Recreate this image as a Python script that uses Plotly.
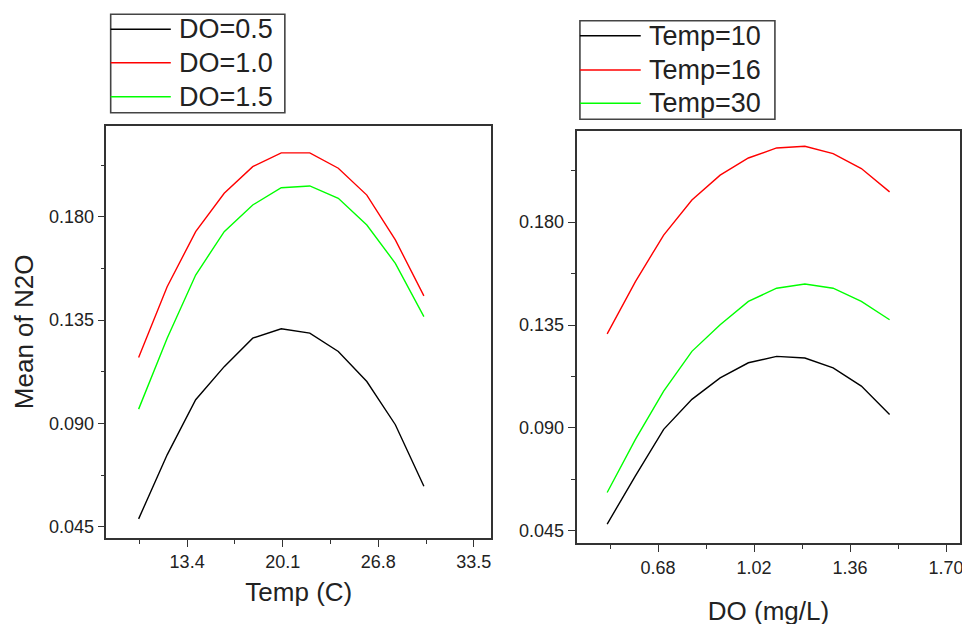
import plotly.graph_objects as go

# ---- data ----
temp = [10, 12, 14, 16, 18, 20, 22, 24, 26, 28, 30]
do_05 = [0.0484, 0.0763, 0.1003, 0.1147, 0.1271, 0.1312, 0.1293, 0.1213, 0.1082, 0.0894, 0.0626]
do_10 = [0.1187, 0.1495, 0.1735, 0.1902, 0.2018, 0.2078, 0.2078, 0.2011, 0.1894, 0.1699, 0.1455]
do_15 = [0.0962, 0.1271, 0.1546, 0.1735, 0.1851, 0.1926, 0.1934, 0.1880, 0.1764, 0.1597, 0.1365]

do_vals = [0.5, 0.6, 0.7, 0.8, 0.9, 1.0, 1.1, 1.2, 1.3, 1.4, 1.5]
t_10 = [0.0480, 0.0691, 0.0894, 0.1025, 0.1119, 0.1185, 0.1213, 0.1206, 0.1163, 0.1083, 0.0959]
t_16 = [0.1311, 0.1540, 0.1743, 0.1896, 0.2005, 0.2080, 0.2124, 0.2131, 0.2099, 0.2034, 0.1932]
t_30 = [0.0618, 0.0850, 0.1061, 0.1235, 0.1351, 0.1453, 0.1511, 0.1529, 0.1511, 0.1453, 0.1373]

left_names = ["DO=0.5", "DO=1.0", "DO=1.5"]
right_names = ["Temp=10", "Temp=16", "Temp=30"]
colors = ["#000000", "#FF0000", "#00FF00"]

FONT = "Liberation Sans, Arial, sans-serif"
TXT = "#222222"
AX = "#333333"

fig = go.Figure()
for ys, name, c in zip([do_05, do_10, do_15], left_names, colors):
    fig.add_trace(go.Scatter(x=temp, y=ys, mode="lines", name=name,
                             line=dict(color=c, width=1.4), xaxis="x", yaxis="y",
                             showlegend=False))
for ys, name, c in zip([t_10, t_16, t_30], right_names, colors):
    fig.add_trace(go.Scatter(x=do_vals, y=ys, mode="lines", name=name,
                             line=dict(color=c, width=1.4), xaxis="x2", yaxis="y2",
                             showlegend=False))

# the page body offsets the figure by ~8px; compensate in layout positions
OFF = 8
W, H = 970, 624

def px(x):
    return min(max((x - OFF) / W, 0.0), 1.0)

def py(y):
    return min(max(1 - (y - OFF) / H, 0.0), 1.0)

common = dict(showline=True, linecolor=AX, linewidth=1.6, mirror=True,
              ticks="outside", ticklen=7, tickwidth=1.4, tickcolor=AX,
              showgrid=False, zeroline=False,
              tickfont=dict(family=FONT, size=18, color=TXT))

fig.update_layout(
    width=W, height=H,
    margin=dict(l=0, r=0, t=0, b=0),
    paper_bgcolor="white", plot_bgcolor="white",
    xaxis=dict(domain=[px(106.7), px(492.7)], range=[7.74, 34.72],
               tickmode="linear", tick0=13.4, dtick=6.7, tickformat=".1f",
               minor=dict(ticks="outside", ticklen=4, tickcolor=AX, tickwidth=1.2, dtick=3.35, tick0=13.4),
               anchor="y",
               title=dict(text="Temp (C)", font=dict(family=FONT, size=26, color=TXT), standoff=12),
               **common),
    yaxis=dict(domain=[py(537.7), py(126)], range=[0.0402, 0.2195],
               tickmode="linear", tick0=0.045, dtick=0.045, tickformat=".3f",
               minor=dict(ticks="outside", ticklen=4, tickcolor=AX, tickwidth=1.2, dtick=0.0225, tick0=0.045),
               anchor="x",
               title=dict(text="Mean of N2O", font=dict(family=FONT, size=26, color=TXT), standoff=8),
               **common),
    xaxis2=dict(domain=[px(578.3), px(963.3)], range=[0.3915, 1.7505],
                tickmode="linear", tick0=0.68, dtick=0.34, tickformat=".2f",
                minor=dict(ticks="outside", ticklen=4, tickcolor=AX, tickwidth=1.2, dtick=0.17, tick0=0.68),
                anchor="y2",
                title=dict(text="DO (mg/L)", font=dict(family=FONT, size=26, color=TXT), standoff=25),
                **common),
    yaxis2=dict(domain=[py(543.3), py(131)], range=[0.0396, 0.2198],
                tickmode="linear", tick0=0.045, dtick=0.045, tickformat=".3f",
                minor=dict(ticks="outside", ticklen=4, tickcolor=AX, tickwidth=1.2, dtick=0.0225, tick0=0.045),
                anchor="x2",
                **common),
)

# ---- legends drawn as boxed keys ----
def add_legend(x0, x1, y0, y1, line_x1, text_x, rows_y, names):
    fig.add_shape(type="rect", xref="paper", yref="paper",
                  x0=px(x0), x1=px(x1), y0=py(y1), y1=py(y0),
                  line=dict(color="#444444", width=1.6), fillcolor="rgba(0,0,0,0)")
    for ry, name, c in zip(rows_y, names, colors):
        fig.add_shape(type="line", xref="paper", yref="paper",
                      x0=px(x0), x1=px(line_x1), y0=py(ry), y1=py(ry),
                      line=dict(color=c, width=1.4))
        fig.add_annotation(text=name, xref="paper", yref="paper",
                           x=px(text_x), y=py(ry), xanchor="left", yanchor="middle",
                           showarrow=False,
                           font=dict(family=FONT, size=27, color=TXT))

add_legend(111, 285.7, 14.3, 112.7, 171.3, 178, [29.3, 62.7, 96.7], left_names)
add_legend(581.7, 777.3, 20.7, 119.3, 642.7, 649, [35.7, 70, 103.3], right_names)

fig.write_html("out.html")
